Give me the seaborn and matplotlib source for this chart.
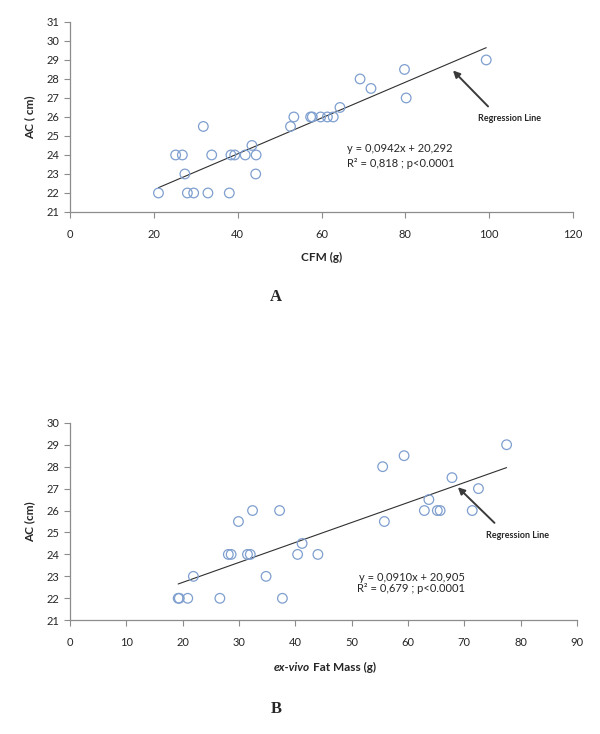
import numpy as np
import matplotlib
matplotlib.use('Agg')
import matplotlib.pyplot as plt
import seaborn as sns

# Panel A: CFM (g) vs AC (cm)
cfm_x = [21.1, 25.2, 26.8, 27.4, 28.0, 29.5, 31.8, 32.9, 33.8, 38.0, 38.4, 39.3, 41.8, 43.4, 44.4,
         44.3, 52.6, 53.4, 57.4, 57.8, 59.8, 61.4, 62.8, 64.4, 69.2, 71.8, 79.8, 80.2, 99.3]
cfm_y = [22, 24, 24, 23, 22, 22, 25.5, 22, 24, 22, 24, 24, 24, 24.5, 24,
         23, 25.5, 26, 26, 26, 26, 26, 26, 26.5, 28, 27.5, 28.5, 27, 29]
cfm_fit = (0.0942, 20.292)

# Panel B: ex-vivo fat mass (g) vs AC (cm)
fat_x = [19.2, 19.4, 20.9, 21.9, 26.6, 28.1, 28.6, 29.9, 31.5, 32.0, 32.4, 34.8, 37.2, 37.7,
         40.4, 41.2, 44.0, 55.5, 55.8, 59.3, 62.9, 63.7, 65.2, 65.7, 67.8, 71.4, 72.5, 77.5]
fat_y = [22, 22, 22, 23, 22, 24, 24, 25.5, 24, 24, 26, 23, 26, 22,
         24, 24.5, 24, 28, 25.5, 28.5, 26, 26.5, 26, 26, 27.5, 26, 27, 29]
fat_fit = (0.0910, 20.905)

sns.set_style('white')
plt.rcParams['font.family'] = ['Lato', 'DejaVu Sans']

fig = plt.figure(figsize=(6, 7.34), dpi=100)
ax_a = fig.add_axes([0.1167, 0.7112, 0.8383, 0.2589])
ax_b = fig.add_axes([0.1167, 0.1550, 0.8450, 0.2690])

blue = '#7f9fcf'
grey = '#8c8c8c'
txt = '#262626'


def panel(ax, x, y, fit, xmax, ymin, ymax):
    sns.scatterplot(x=x, y=y, ax=ax, marker='o', s=48, facecolors='none',
                    edgecolor=blue, linewidth=0.9, zorder=3)
    xs = np.array([min(x), max(x)])
    sns.lineplot(x=xs, y=fit[0] * xs + fit[1], ax=ax, color='#303030', linewidth=0.8)
    ax.set_xlim(0, xmax)
    ax.set_ylim(ymin, ymax)
    ax.set_yticks(np.arange(ymin, ymax + 1, 1))
    for s in ['top', 'right']:
        ax.spines[s].set_visible(False)
    for s in ['left', 'bottom']:
        ax.spines[s].set_color(grey)
        ax.spines[s].set_linewidth(0.9)
    ax.tick_params(axis='both', direction='out', length=4, width=0.8, color=grey,
                   labelsize=8, labelcolor=txt, left=True, bottom=True)
    ax.tick_params(axis='x', pad=8)
    ax.grid(False)


# --- A ---
panel(ax_a, cfm_x, cfm_y, cfm_fit, 120, 21, 31)
ax_a.set_xticks(np.arange(0, 121, 20))
ax_a.set_ylabel('AC ( cm)', fontsize=8.5, fontweight='bold', color=txt, labelpad=8)
ax_a.set_xlabel('CFM (g)', fontsize=8.5, fontweight='bold', color=txt, labelpad=9)
ax_a.text(66, 24.35, 'y = 0,0942x + 20,292', fontsize=8, color=txt, va='center')
ax_a.text(66, 23.55, 'R² = 0,818 ; p<0.0001', fontsize=8, color=txt, va='center')
ax_a.annotate('', xy=(90.9, 28.55), xytext=(100.2, 26.45),
              arrowprops=dict(arrowstyle='-|>', color='#3a3a3a', lw=1.4, mutation_scale=10))
ax_a.text(97.3, 25.9, 'Regression Line', fontsize=6.5, fontweight='bold', color=txt, va='center')

# --- B ---
panel(ax_b, fat_x, fat_y, fat_fit, 90, 21, 30)
ax_b.set_xticks(np.arange(0, 91, 10))
ax_b.set_ylabel('AC (cm)', fontsize=8.5, fontweight='bold', color=txt, labelpad=8)
ax_b.text(51.3, 22.95, 'y = 0,0910x + 20,905', fontsize=8, color=txt, va='center')
ax_b.text(51.0, 22.45, 'R² = 0,679 ; p<0.0001', fontsize=8, color=txt, va='center')
ax_b.annotate('', xy=(68.5, 27.15), xytext=(75.7, 25.35),
              arrowprops=dict(arrowstyle='-|>', color='#3a3a3a', lw=1.4, mutation_scale=10))
ax_b.text(73.8, 24.85, 'Regression Line', fontsize=6.5, fontweight='bold', color=txt, va='center')

# x label of B: italic part + normal part
fig.text(0.516, 0.091, 'ex-vivo', fontsize=8.5, fontweight='bold', fontstyle='italic',
         color=txt, ha='right', va='center')
fig.text(0.521, 0.091, 'Fat Mass (g)', fontsize=8.5, fontweight='bold',
         color=txt, ha='left', va='center')

# panel letters
fig.text(0.46, 1 - 297 / 734, 'A', fontsize=12, fontweight='bold',
         family='Liberation Serif', ha='center', va='center')
fig.text(0.46, 1 - 709 / 734, 'B', fontsize=12, fontweight='bold',
         family='Liberation Serif', ha='center', va='center')

fig.savefig('out.png', dpi=100, facecolor='white')
